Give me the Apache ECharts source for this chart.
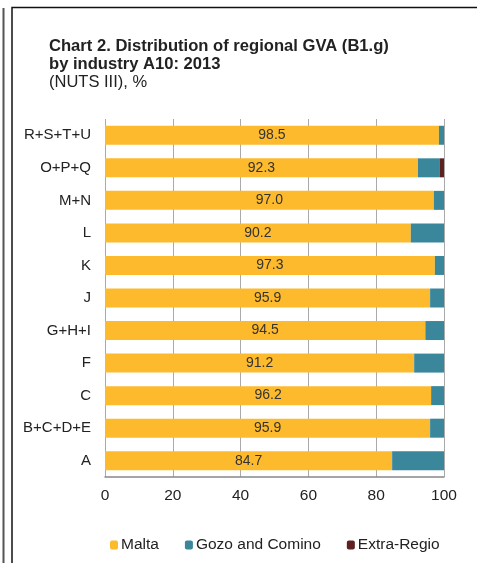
<!DOCTYPE html>
<html><head><meta charset="utf-8">
<script src="https://cdn.jsdelivr.net/npm/echarts@6/dist/echarts.min.js"></script>
<style>html,body{margin:0;padding:0;background:#fff}#c{width:477px;height:563px}</style>
</head><body><div id="c"></div>
<script>
const categories = ['A','B+C+D+E','C','F','G+H+I','J','K','L','M+N','O+P+Q','R+S+T+U'];
const malta = [84.7,95.9,96.2,91.2,94.5,95.9,97.3,90.2,97.0,92.3,98.5];
const gozo = [15.3,4.1,3.8,8.8,5.5,4.1,2.7,9.8,3.0,6.5,1.5];
const extra = [0,0,0,0,0,0,0,0,0,1.2,0];
const xTicks = [0,20,40,60,80,100];
const F = 'Liberation Sans, Arial, sans-serif';
const chart = echarts.init(document.getElementById('c'));
chart.setOption({
  animation:false,
  title:{text:'Chart 2. Distribution of regional GVA (B1.g)\nby industry A10: 2013',
    subtext:'(NUTS III), %', left:44, top:37, itemGap:0, padding:[0,5,0,5],
    textStyle:{fontFamily:F,fontSize:16.6,fontWeight:'bold',color:'#222',lineHeight:18},
    subtextStyle:{fontFamily:F,fontSize:16.5,color:'#222',lineHeight:18}},
  graphic:[
    {type:'line',shape:{x1:3.5,y1:8,x2:3.5,y2:563},style:{stroke:'#555',lineWidth:2}},
    {type:'rect',shape:{x:12,y:7.5,width:480,height:570},style:{fill:'none',stroke:'#111',lineWidth:1.5}}
  ],
  legend:{top:532,left:105,itemWidth:8,itemHeight:9,itemGap:26,
    textStyle:{fontFamily:F,fontSize:15.5,color:'#222',padding:[0,0,0,-2]},
    data:['Malta','Gozo and Comino','Extra-Regio']},
  grid:{left:105,right:33,top:119,bottom:86,containLabel:false},
  xAxis:{type:'value',min:0,max:100,interval:20,
    axisLine:{show:true,lineStyle:{color:'#888',width:1.5}},axisTick:{show:false},
    axisLabel:{fontFamily:F,fontSize:15.5,color:'#222',margin:11,
      formatter:v=>xTicks.includes(v)?String(v):''},
    splitLine:{show:true,lineStyle:{color:'#aaa',width:1}}},
  yAxis:{type:'category',data:categories,
    axisLine:{show:false},axisTick:{show:false},
    axisLabel:{fontFamily:F,fontSize:15,color:'#222',margin:14}},
  series:[
    {name:'Malta',type:'bar',stack:'s',data:malta,barWidth:19,itemStyle:{color:'#FDBA2C'},
      label:{show:true,position:'inside',fontFamily:F,fontSize:14,color:'#333',formatter:p=>p.value.toFixed(1)}},
    {name:'Gozo and Comino',type:'bar',stack:'s',data:gozo,barWidth:19,itemStyle:{color:'#3A879B'}},
    {name:'Extra-Regio',type:'bar',stack:'s',data:extra,barWidth:19,itemStyle:{color:'#5E2120'}}
  ]
});
</script></body></html>
